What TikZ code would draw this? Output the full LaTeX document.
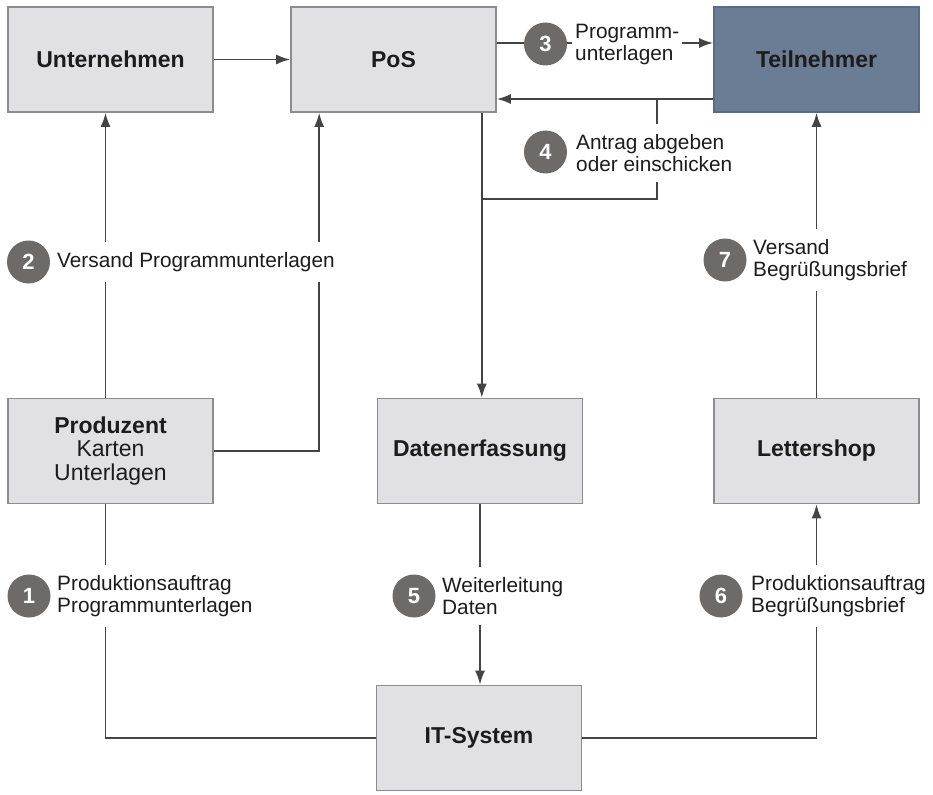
\documentclass[tikz,border=0pt]{standalone}
\usepackage{fontspec}
\setmainfont{Liberation Sans}
\usetikzlibrary{arrows.meta}
\definecolor{boxfill}{HTML}{E1E1E3}
\definecolor{boxline}{HTML}{8C8C8C}
\definecolor{tfill}{HTML}{6B7C95}
\definecolor{tline}{HTML}{5B6B82}
\definecolor{wire}{HTML}{444444}
\definecolor{badge}{HTML}{6E6A68}
\definecolor{ink}{HTML}{1C1C1C}
\begin{document}
\begin{tikzpicture}[x=1pt,y=-1pt,
  box/.style={draw=boxline, line width=1.6pt, fill=boxfill,
    minimum width=205pt, minimum height=105pt, inner sep=0pt,
    font=\fontsize{23}{23.5}\selectfont\bfseries, text=ink, align=center},
  tbox/.style={box, fill=tfill, draw=tline},
  wireline/.style={draw=wire, line width=1.8pt},
  arr/.style={wireline, -{Latex[length=14pt,width=10pt]}},
  num/.style={circle, fill=badge, minimum size=43pt, inner sep=0pt,
    text=white, font=\fontsize{22}{22}\selectfont\bfseries},
  lab/.style={fill=white, anchor=west, align=left, inner xsep=3pt,
    inner ysep=10pt, text=ink, font=\fontsize{20.8}{22}\selectfont},
]
\useasboundingbox (0,0) rectangle (933,794);

% boxes
\node[box]  (unt)    at (110.5,59.5) {Unternehmen};
\node[box]  (pos)    at (393.5,59.5) {PoS};
\node[tbox] (teil)   at (816.5,59.5) {Teilnehmer};
\node[box]  (prod)   at (110.5,451)  {Produzent\\\mdseries Karten\\\mdseries Unterlagen};
\node[box]  (daten)  at (480,451)    {Datenerfassung};
\node[box]  (letter) at (816.5,451)  {Lettershop};
\node[box]  (it)     at (479,738)    {IT-System};

% connectors
\draw[arr] (unt) -- (pos);
\draw[arr] ([xshift=-5pt]prod.north) -- ([xshift=-5pt]unt.south);
\draw[arr] (prod.east) -| ([xshift=29pt]pos.south west);
\draw[arr] ([yshift=16.5pt]pos.east) -- ([yshift=16.5pt]teil.west);
\draw[arr] ([yshift=-39.5pt]teil.west) -- ([yshift=-39.5pt]pos.east);
\coordinate (fork) at ([xshift=-56pt,yshift=-39.5pt]teil.west);
\coordinate (join) at ([xshift=-15pt,yshift=-86pt]pos.south east);
\draw[wireline] (fork) |- (join);
\draw[arr] ([xshift=-15pt]pos.south east) -- ([xshift=-15pt]pos.south east |- daten.north);
\draw[arr] (daten.south) -- (daten.south |- it.north);
\draw[wireline] ([xshift=-5pt]prod.south) |- (it.west);
\draw[arr] (it.east) -| (letter.south);
\draw[arr] (letter.north) -- (teil.south);

% step labels
\node[num] (n1) at (29,596)    {1};
\node[lab] (t1) at (54,596)    {Produktionsauftrag\\Programmunterlagen};
\node[num] (n2) at (28.5,262)  {2};
\node[lab] (t2) at (54,262)    {Versand Programmunterlagen};
\node[num] (n3) at (545.5,44)  {3};
\node[lab] (t3) at (572,45)    {Programm-\\unterlagen};
\node[num] (n4) at (545.5,152) {4};
\node[lab] (t4) at (573,153)   {Antrag abgeben\\oder einschicken};
\node[num] (n5) at (414,596)   {5};
\node[lab] (t5) at (439,596)   {Weiterleitung\\Daten};
\node[num] (n6) at (721,596)   {6};
\node[lab] (t6) at (748,596)   {Produktionsauftrag\\Begrüßungsbrief};
\node[num] (n7) at (725,260)   {7};
\node[lab] (t7) at (750,260)   {Versand\\Begrüßungsbrief};
\end{tikzpicture}
\end{document}
